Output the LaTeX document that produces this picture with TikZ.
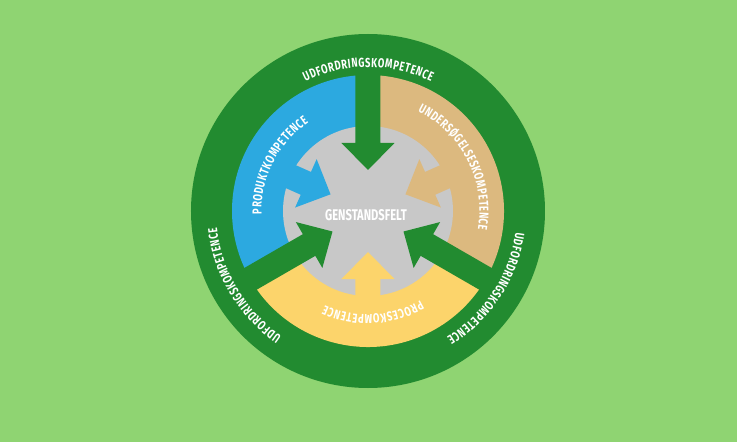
\documentclass[tikz,border=0pt]{standalone}
\usepackage{fontspec}
\setmainfont{Fira Sans}
\newfontfamily\kompfont[FakeStretch=0.72]{Fira Sans}
\usepackage{tikz}
\usetikzlibrary{decorations.text}
\definecolor{baggrund}{RGB}{143,212,114}
\definecolor{morkgron}{RGB}{34,139,48}
\definecolor{bla}{RGB}{44,169,224}
\definecolor{sand}{RGB}{220,185,127}
\definecolor{gul}{RGB}{252,212,107}
\definecolor{gra}{RGB}{200,200,200}
\newcommand\komptekst{\kompfont\bfseries\fontsize{13}{15}\selectfont\color{white}\kern0.6pt}
\tikzstyle{ring}=[fill=morkgron]
\tikzstyle{felt}=[fill=gra]
\tikzstyle{pilgron}=[fill=morkgron]
\tikzstyle{pilbla}=[fill=bla]
\tikzstyle{pilsand}=[fill=sand]
\tikzstyle{pilgul}=[fill=gul]
\tikzstyle{midtetekst}=[text=white,inner sep=0pt,
font=\kompfont\bfseries\fontsize{15.5}{17}\selectfont]
\tikzstyle{buetekst}=[decorate,decoration={text along path,text align=center}]

\begin{document}
\begin{tikzpicture}[x=1pt,y=1pt]
\useasboundingbox (-368,-231) rectangle (369,211);
\fill[baggrund] (-368,-231) rectangle (369,211);
\fill[ring] (0,0) circle[radius=177];
%Sektorer
\fill[bla] (0,0) -- (90:136) arc[start angle=90, end angle=210, radius=136] -- cycle;
\fill[gul] (0,0) -- (210:136) arc[start angle=210, end angle=330, radius=136] -- cycle;
\fill[sand] (0,0) -- (-30:136) arc[start angle=-30, end angle=90, radius=136] -- cycle;
\fill[felt] (0,0) circle[radius=85];
%Pile
\fill[pilgron,rotate=0] (-12.5,150) -- (12.5,150) -- (12.5,68) -- (26.5,68) -- (0,41) -- (-26.5,68) -- (-12.5,68) -- cycle;
\fill[pilgron,rotate=120] (-12.5,150) -- (12.5,150) -- (12.5,68) -- (26.5,68) -- (0,41) -- (-26.5,68) -- (-12.5,68) -- cycle;
\fill[pilgron,rotate=240] (-12.5,150) -- (12.5,150) -- (12.5,68) -- (26.5,68) -- (0,41) -- (-26.5,68) -- (-12.5,68) -- cycle;
\fill[pilbla,rotate=66] (-12.5,95) -- (12.5,95) -- (12.5,68) -- (26.5,68) -- (0,41) -- (-26.5,68) -- (-12.5,68) -- cycle;
\fill[pilsand,rotate=-66] (-12.5,95) -- (12.5,95) -- (12.5,68) -- (26.5,68) -- (0,41) -- (-26.5,68) -- (-12.5,68) -- cycle;
\fill[pilgul,rotate=180] (-12.5,95) -- (12.5,95) -- (12.5,68) -- (26.5,68) -- (0,41) -- (-26.5,68) -- (-12.5,68) -- cycle;
%Tekster
\node[midtetekst] (genstand) at (-2,-4) {GENSTANDSFELT};
\path[buetekst,decoration={text={|\komptekst|UDFORDRINGSKOMPETENCE}}]
  (130:144) arc[start angle=130, end angle=50, radius=144];
\path[buetekst,decoration={text={|\komptekst|UDFORDRINGSKOMPETENCE}}]
  (251:152) arc[start angle=251, end angle=171, radius=152];
\path[buetekst,decoration={text={|\komptekst|UDFORDRINGSKOMPETENCE}}]
  (367:149) arc[start angle=367, end angle=287, radius=149];
\path[buetekst,decoration={text={|\komptekst|PRODUKTKOMPETENCE}}]
  (193:106.5) arc[start angle=193, end angle=113, radius=106.5];
\path[buetekst,decoration={text={|\komptekst|UNDERSØGELSESKOMPETENCE}}]
  (77:111.5) arc[start angle=77, end angle=-23, radius=111.5];
\path[buetekst,decoration={text={|\komptekst|PROCESKOMPETENCE}}]
  (313:103.5) arc[start angle=313, end angle=233, radius=103.5];
\end{tikzpicture}
\end{document}
